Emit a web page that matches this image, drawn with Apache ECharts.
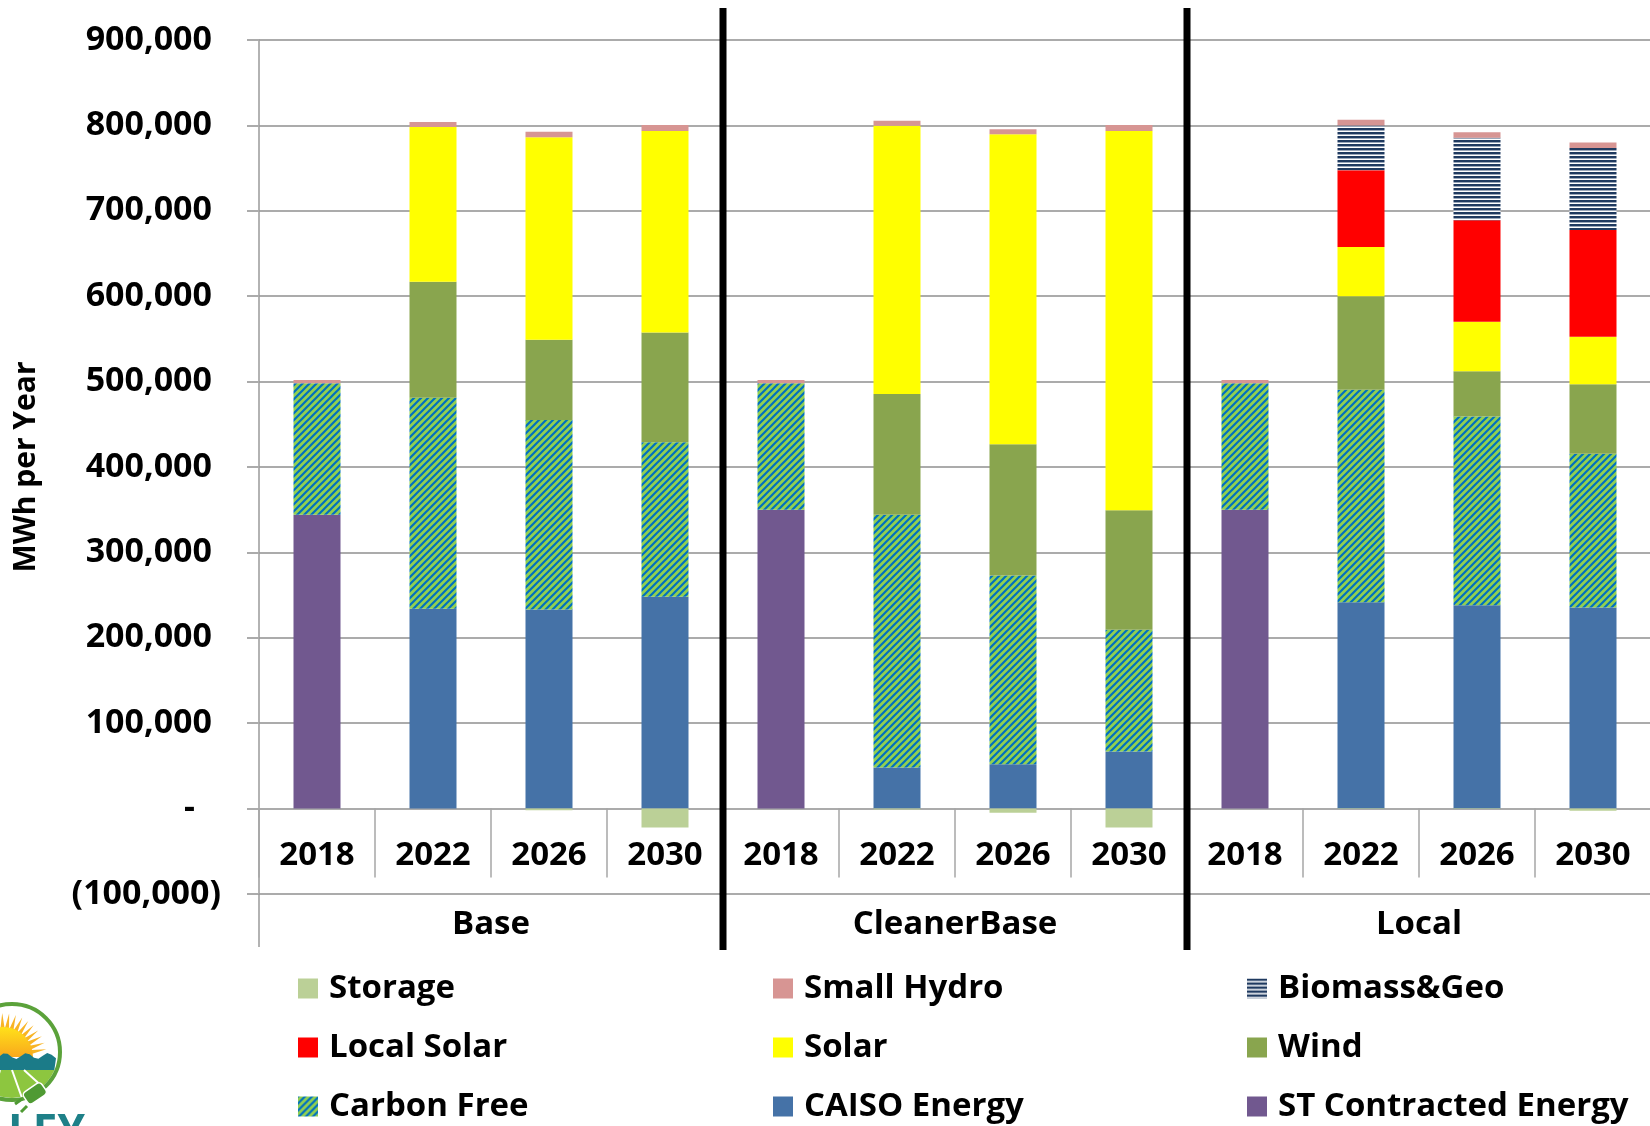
<!DOCTYPE html>
<html>
<head>
<meta charset="utf-8">
<script src="https://cdn.jsdelivr.net/npm/echarts@6/dist/echarts.min.js"></script>
<style>
  html, body { margin: 0; padding: 0; background: #fff; }
  #chart { width: 1650px; height: 1126px; }
</style>
</head>
<body>
<div id="chart"></div>
<script>
// Scenario groups and study years on the category axis
const scenarios = ['Base', 'CleanerBase', 'Local'];
const years = ['2018', '2022', '2026', '2030'];

// Annual energy by resource (MWh), in order Base x4, CleanerBase x4, Local x4
const stContracted = [344000, 0, 0, 0,        350000, 0, 0, 0,         350000, 0, 0, 0];
const caisoEnergy  = [0, 234000, 233000, 248000, 0, 48000, 52000, 67000, 0, 241500, 238000, 235500];
const carbonFree   = [154000, 247000, 222000, 181000, 148000, 296000, 221000, 142500, 148000, 249000, 221000, 180000];
const wind         = [0, 136000, 94000, 128500, 0, 141500, 153500, 140000, 0, 109500, 53000, 81500];
const solar        = [0, 181000, 237000, 236000, 0, 314000, 363000, 444000, 0, 57500, 58000, 55500];
const localSolar   = [0, 0, 0, 0,             0, 0, 0, 0,              0, 90000, 119000, 125000];
const biomassGeo   = [0, 0, 0, 0,             0, 0, 0, 0,              0, 52500, 96500, 96000];
const smallHydro   = [4000, 6000, 6500, 7000, 4000, 6000, 6000, 7000, 4000, 6500, 6500, 6500];
const storage      = [0, 0, -2000, -22000,    0, -1000, -5000, -22000, 0, -500, -500, -2500];

// Value axis range and step
const yMin = -100000, yMax = 900000, yStep = 100000;

// Legend layout: three columns of three entries
const legendColumns = [
  ['Storage', 'Local Solar', 'Carbon Free'],
  ['Small Hydro', 'Solar', 'CAISO Energy'],
  ['Biomass&Geo', 'Wind', 'ST Contracted Energy']
];

const categories = scenarios.flatMap(s => years.map(y => s + ' ' + y));

const FONT = 'Open Sans';
const bold = { fontFamily: FONT, fontWeight: 'bold', color: '#000' };

// Diagonal blue-on-green hatch
function diagonalTile() {
  const s = 7;
  const c = document.createElement('canvas');
  c.width = s; c.height = s;
  const g = c.getContext('2d');
  g.fillStyle = '#92D050';
  g.fillRect(0, 0, s, s);
  g.strokeStyle = '#0070C0';
  g.lineWidth = 2.2;
  g.beginPath();
  g.moveTo(-1, s + 1); g.lineTo(s + 1, -1);
  g.moveTo(-1, 1); g.lineTo(1, -1);
  g.moveTo(s - 1, s + 1); g.lineTo(s + 1, s - 1);
  g.stroke();
  return c;
}

// Horizontal navy stripes on white
function horizontalTile() {
  const c = document.createElement('canvas');
  c.width = 4; c.height = 4;
  const g = c.getContext('2d');
  g.fillStyle = '#ffffff';
  g.fillRect(0, 0, 4, 4);
  g.fillStyle = '#1F3A60';
  g.fillRect(0, 0, 4, 2);
  g.fillStyle = '#9AA7BA';
  g.fillRect(0, 2, 4, 1);
  return c;
}

const hatchGreen = { image: diagonalTile(), repeat: 'repeat' };
const hatchNavy = { image: horizontalTile(), repeat: 'repeat' };

function barSeries(name, data, color) {
  return {
    name: name,
    type: 'bar',
    stack: 'energy',
    xAxisIndex: 0,
    yAxisIndex: 0,
    barWidth: 47,
    data: data,
    itemStyle: { color: color },
    emphasis: { disabled: true }
  };
}

function fmtThousands(v) {
  return String(v).replace(/\B(?=(\d{3})+(?!\d))/g, ',');
}

const chart = echarts.init(document.getElementById('chart'), null, { renderer: 'canvas' });

const option = {
  animation: false,
  backgroundColor: '#ffffff',
  grid: {
    left: 259,
    top: 40,
    width: 1392,
    height: 854,
    containLabel: false,
    outerBoundsMode: 'none'
  },
  xAxis: [
    {
      type: 'category',
      position: 'bottom',
      data: categories,
      boundaryGap: true,
      offset: 0,
      axisLine: { show: true, onZero: false, lineStyle: { color: '#ababab', width: 2 } },
      axisTick: { show: true, interval: 0, length: 69, lineStyle: { color: '#a6a6a6', width: 1.5 } },
      axisLabel: Object.assign({
        interval: 0, margin: 30, fontSize: 33, lineHeight: 33,
        formatter: v => v.split(' ')[1]
      }, bold),
      splitLine: { show: false }
    },
    {
      type: 'category',
      position: 'bottom',
      data: scenarios,
      boundaryGap: true,
      axisLine: { show: false, onZero: false },
      axisTick: { show: false },
      axisLabel: Object.assign({ interval: 0, margin: 14, fontSize: 33, lineHeight: 33 }, bold),
      splitLine: { show: false }
    }
  ],
  yAxis: {
    type: 'value',
    min: yMin,
    max: yMax,
    interval: yStep,
    name: 'MWh per Year',
    nameLocation: 'middle',
    nameRotate: 90,
    nameGap: 218,
    nameTextStyle: Object.assign({ fontSize: 30 }, bold),
    axisLine: { show: true, lineStyle: { color: '#9a9a9a', width: 1.5 } },
    axisTick: { show: true, length: 12, lineStyle: { color: '#ababab', width: 2 } },
    splitLine: { show: true, lineStyle: { color: '#ababab', width: 2 } },
    axisLabel: {
      margin: 38,
      formatter: v => {
        if (v === 0) return '{d|-}';
        if (v < 0) return '{n|(' + fmtThousands(-v) + ')}';
        return '{p|' + fmtThousands(v) + '}';
      },
      rich: {
        p: Object.assign({ fontSize: 34, padding: [0, 9, 0, 0] }, bold),
        n: Object.assign({ fontSize: 34 }, bold),
        d: Object.assign({ fontSize: 34, padding: [0, 26, 0, 0] }, bold)
      }
    }
  },
  legend: legendColumns.map((names, i) => ({
    data: names,
    orient: 'vertical',
    left: [298, 773, 1247][i],
    top: 972,
    padding: 0,
    icon: 'rect',
    itemWidth: 20,
    itemHeight: 20,
    itemGap: 26,
    selectedMode: false,
    textStyle: Object.assign({ fontSize: 33, lineHeight: 33, padding: [0, 0, 0, 6] }, bold)
  })),
  series: [
    barSeries('ST Contracted Energy', stContracted, '#71588F'),
    barSeries('CAISO Energy', caisoEnergy, '#4572A7'),
    barSeries('Carbon Free', carbonFree, hatchGreen),
    barSeries('Wind', wind, '#89A54E'),
    barSeries('Solar', solar, '#FFFF00'),
    barSeries('Local Solar', localSolar, '#FF0000'),
    barSeries('Biomass&Geo', biomassGeo, hatchNavy),
    barSeries('Small Hydro', smallHydro, '#D79593'),
    barSeries('Storage', storage, '#BBD097')
  ]
};

chart.setOption(option);

// Lift the year axis onto the zero line of the value scale
const yTop = chart.convertToPixel({ yAxisIndex: 0 }, yMax);
const yBottom = chart.convertToPixel({ yAxisIndex: 0 }, yMin);
const yZero = chart.convertToPixel({ yAxisIndex: 0 }, 0);
chart.setOption({ xAxis: [{ offset: -(yBottom - yZero) }, {}] });

// Scenario separators and axis extension, placed from the axis scales
const center = i => chart.convertToPixel({ xAxisIndex: 0 }, categories[i]);
const step = center(1) - center(0);
const boundary = i => center(0) + (i - 0.5) * step;

const graphics = [];
graphics.push({
  type: 'line', silent: true, z: 10,
  shape: { x1: boundary(0), y1: yBottom, x2: boundary(0), y2: yBottom + 53 },
  style: { stroke: '#9a9a9a', lineWidth: 1.5 }
});
[years.length, years.length * 2].forEach(k => {
  graphics.push({
    type: 'line', silent: true, z: 20,
    shape: { x1: boundary(k), y1: yTop - 32, x2: boundary(k), y2: yBottom + 56 },
    style: { stroke: '#000000', lineWidth: 7 }
  });
});

// Logo badge in the lower-left corner
const cx = 12, cy = 1052, r = 46;
const rays = [];
for (let a = 100; a >= 5; a -= 9) {
  const t = a * Math.PI / 180;
  const w = 2.2 * Math.PI / 180;
  const sx = 3, sy = 1057;
  rays.push({
    type: 'polygon', silent: true,
    shape: { points: [
      [sx + 24 * Math.cos(t - w * 3), sy - 24 * Math.sin(t - w * 3)],
      [sx + 44 * Math.cos(t), sy - 44 * Math.sin(t)],
      [sx + 24 * Math.cos(t + w * 3), sy - 24 * Math.sin(t + w * 3)]
    ] },
    style: { fill: '#F8B425' }
  });
}
const fieldPts = [];
for (let k = 0; k <= 24; k++) {
  const yy = 1070 + (cy + r - 1070) * k / 24;
  const dx = Math.sqrt(Math.max(0, r * r - (yy - cy) * (yy - cy)));
  fieldPts.push([cx + dx, yy]);
}
for (let k = 24; k >= 0; k--) {
  const yy = 1070 + (cy + r - 1070) * k / 24;
  const dx = Math.sqrt(Math.max(0, r * r - (yy - cy) * (yy - cy)));
  fieldPts.push([cx - dx, yy]);
}
const bandTop = 1056, bandBot = 1070;
const bandPts = [];
for (let k = 0; k <= 20; k++) {
  const x = cx - 44 + 88 * k / 20;
  bandPts.push([x, bandTop + 3 * Math.sin(k * 1.3)]);
}
bandPts.push([cx + Math.sqrt(r * r - (bandBot - cy) * (bandBot - cy)), bandBot]);
bandPts.push([cx - Math.sqrt(r * r - (bandBot - cy) * (bandBot - cy)), bandBot]);

graphics.push(
  ...rays,
  {
    type: 'sector', silent: true,
    shape: { cx: 3, cy: 1057, r0: 0, r: 30, startAngle: Math.PI, endAngle: Math.PI * 2 },
    style: { fill: new echarts.graphic.LinearGradient(0, 0, 0, 1, [
      { offset: 0, color: '#FFE11A' }, { offset: 1, color: '#F9A81C' }
    ]) }
  },
  { type: 'polygon', silent: true, shape: { points: bandPts }, style: { fill: '#1B7B88' } },
  { type: 'polygon', silent: true, shape: { points: fieldPts }, style: { fill: '#8DC63F' } },
  { type: 'line', silent: true, shape: { x1: 0, y1: 1070, x2: -8, y2: 1098 }, style: { stroke: '#fff', lineWidth: 2 } },
  { type: 'line', silent: true, shape: { x1: 12, y1: 1070, x2: 22, y2: 1098 }, style: { stroke: '#fff', lineWidth: 2 } },
  { type: 'line', silent: true, shape: { x1: 24, y1: 1070, x2: 46, y2: 1090 }, style: { stroke: '#fff', lineWidth: 2 } },
  {
    type: 'circle', silent: true,
    shape: { cx: cx, cy: cy, r: r + 2 },
    style: { fill: 'none', stroke: '#5BA23A', lineWidth: 4 }
  },
  {
    type: 'rect', silent: true,
    shape: { x: -10, y: -7, width: 22, height: 14, r: 4 },
    x: 34, y: 1094, rotation: 0.6,
    style: { fill: '#4F9A33', stroke: '#ffffff', lineWidth: 1.5 }
  },
  {
    type: 'line', silent: true,
    shape: { x1: 22, y1: 1099, x2: 15, y2: 1104 },
    style: { stroke: '#4F9A33', lineWidth: 3 }
  },
  {
    type: 'line', silent: true,
    shape: { x1: 27, y1: 1106, x2: 21, y2: 1112 },
    style: { stroke: '#4F9A33', lineWidth: 3 }
  },
  {
    type: 'text', silent: true,
    x: 8, y: 1111,
    style: { text: 'LEY', fill: '#1E8088', font: 'bold 44px "Open Sans"', textVerticalAlign: 'top', verticalAlign: 'top' }
  }
);

chart.setOption({ graphic: graphics });
</script>
</body>
</html>
